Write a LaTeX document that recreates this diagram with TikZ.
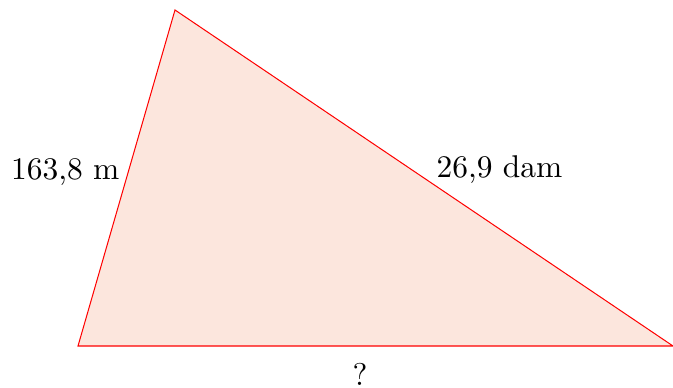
\documentclass[tikz,border=0pt]{standalone}
\definecolor{trifill}{RGB}{252,230,221}
\begin{document}
\begin{tikzpicture}[x=0.345pt, y=-0.345pt,
        side/.style={draw=red, line width=0.35pt, fill=trifill},
        lbl/.style={font=\fontsize{10.85}{13}\selectfont, inner sep=0pt}
    ]
    \useasboundingbox (0,0) rectangle (673,388);
    % sommets
    \coordinate (A) at (78,346);
    \coordinate (B) at (175,10);
    \coordinate (C) at (673,346);
    \filldraw[side] (A) -- (B) -- (C) -- cycle;
    % longueurs
    \node[lbl, anchor=east] (ab) at (120,172) {163,8 m};
    \node[lbl, anchor=west] (bc) at (436,170) {26,9 dam};
    \node[lbl] (ac) at (360,374) {?};
\end{tikzpicture}
\end{document}
